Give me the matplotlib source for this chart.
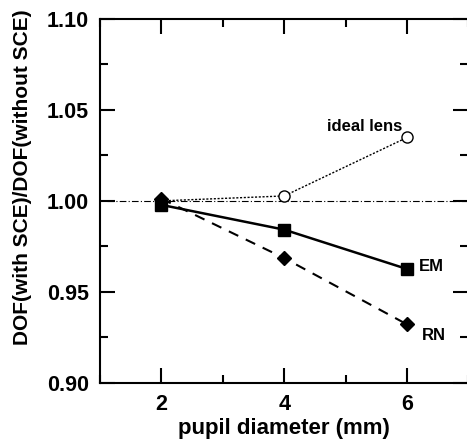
import matplotlib
matplotlib.use("Agg")
import matplotlib.pyplot as plt
from matplotlib.ticker import MultipleLocator

plt.rcParams['font.family'] = ['Liberation Sans', 'DejaVu Sans']
plt.rcParams['font.weight'] = 'bold'

pupil = [2, 4, 6]
ideal_lens = [1.000, 1.0027, 1.0348]
em = [0.9978, 0.9842, 0.9626]
rn = [1.0012, 0.9686, 0.9322]
xticks = [2, 4, 6]
yticks = [0.90, 0.95, 1.00, 1.05, 1.10]

fig = plt.figure(figsize=(4.67, 4.41), dpi=100)
ax = fig.add_axes([0.214, 0.1315, 0.789, 0.826])

ax.axhline(1.0, color='black', lw=0.8, ls=(0, (6, 2, 1, 2)), xmin=0.02, zorder=1)
ax.plot(pupil, ideal_lens, color='black', lw=1.0, ls=(0, (1.5, 1.2)), marker='o',
        ms=8, mfc='white', mec='black', mew=1.0, zorder=3)
ax.plot(pupil, rn, color='black', lw=1.5, ls=(0, (5, 4)), marker='D',
        ms=7, mfc='black', mec='black', zorder=4)
ax.plot(pupil, em, color='black', lw=1.8, ls='-', marker='s',
        ms=8.5, mfc='black', mec='black', zorder=5)

ax.text(4.69, 1.041, 'ideal lens', fontsize=12, fontweight='bold', ha='left', va='center')
ax.text(6.2, 0.9642, 'EM', fontsize=12, fontweight='bold', ha='left', va='center')
ax.text(6.25, 0.9260, 'RN', fontsize=12, fontweight='bold', ha='left', va='center')

ax.set_xlim(1, 7)
ax.set_ylim(0.90, 1.10)
ax.set_xticks(xticks)
ax.set_yticks(yticks)
ax.set_yticklabels([f'{v:.2f}' for v in yticks])
ax.xaxis.set_minor_locator(MultipleLocator(1))
ax.yaxis.set_minor_locator(MultipleLocator(0.025))
ax.tick_params(which='major', direction='in', length=11, width=1.5, top=True, right=True,
               labelsize=15.5, pad=8)
ax.tick_params(which='minor', direction='in', length=6, width=1.5, top=True, right=True)
for lab in ax.get_xticklabels() + ax.get_yticklabels():
    lab.set_fontweight('bold')
for s in ax.spines.values():
    s.set_linewidth(1.5)

ax.set_xlabel('pupil diameter (mm)', fontsize=16, fontweight='bold', labelpad=2)
ax.set_ylabel('DOF(with SCE)/DOF(without SCE)', fontsize=15, fontweight='bold')
ax.yaxis.set_label_coords(-0.184, 0.565)

fig.savefig('out.png', dpi=100)
